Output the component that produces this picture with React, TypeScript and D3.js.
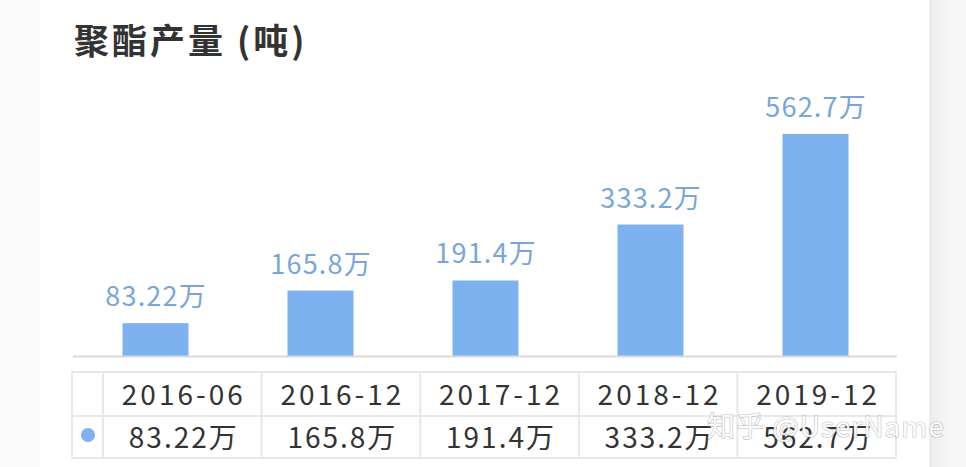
import React from "react";
import * as d3 from "d3";

const categories = ["2016-06", "2016-12", "2017-12", "2018-12", "2019-12"];
const values = [83.22, 165.8, 191.4, 333.2, 562.7];
const valueLabels = ["83.22万", "165.8万", "191.4万", "333.2万", "562.7万"];
const title = "聚酯产量 (吨)";
const watermark = "知乎 @UserName";

const W = 966;
const H = 467;
const FONT = "'Noto Sans CJK SC', 'Noto Sans', sans-serif";

export default function App() {
  const x = d3
    .scaleBand<string>()
    .domain(categories)
    .range([73, 898])
    .paddingInner(0.6)
    .paddingOuter(0.3);
  const y = d3.scaleLinear().domain([0, d3.max(values) as number]).range([356, 134]);

  const tableLeft = 72;
  const firstColRight = 103;
  const tableRight = 896;
  const tCol = d3.scaleBand<string>().domain(categories).range([firstColRight, tableRight]);
  const rowTop = 372;
  const rowMid = 416;
  const rowBot = 458;

  const barColor = "#7db1ef";
  const labelColor = "#78a5da";
  const gridColor = "#e8e8e8";

  return (
    <svg
      width={W}
      height={H}
      style={{ position: "fixed", left: 0, top: 0, display: "block" }}
      fontFamily={FONT}
    >
      <defs>
        <linearGradient id="rightbg" x1="0" x2="1" y1="0" y2="0">
          <stop offset="0" stopColor="#ececec" />
          <stop offset="0.5" stopColor="#f5f5f5" />
          <stop offset="1" stopColor="#f8f8f8" />
        </linearGradient>
      </defs>
      <rect x={0} y={0} width={W} height={H} fill="#ffffff" />
      <rect x={0} y={0} width={40} height={H} fill="#fafafa" />
      <rect x={929} y={0} width={W - 929} height={H} fill="url(#rightbg)" />

      <text x={74} y={54} fontSize={35} fontWeight={700} fill="#333333" letterSpacing={3}>
        {title}
      </text>

      {categories.map((c, i) => (
        <g key={c}>
          <rect
            x={x(c)}
            y={y(values[i])}
            width={x.bandwidth()}
            height={y(0) - y(values[i])}
            fill={barColor}
          />
          <text
            x={(x(c) as number) + x.bandwidth() / 2 + 0.6}
            y={y(values[i]) - 17}
            textAnchor="middle"
            fontSize={27}
            letterSpacing={1.2}
            fill={labelColor}
          >
            {valueLabels[i]}
          </text>
        </g>
      ))}
      <line x1={73} x2={897} y1={356.5} y2={356.5} stroke="#d9d9d9" strokeWidth={2} />

      {/* data table */}
      <g stroke={gridColor} strokeWidth={2} fill="none">
        <rect x={tableLeft} y={rowTop} width={tableRight - tableLeft} height={rowBot - rowTop} />
        <line x1={tableLeft} x2={tableRight} y1={rowMid} y2={rowMid} />
        <line x1={firstColRight} x2={firstColRight} y1={rowTop} y2={rowBot} />
        {categories.slice(1).map((c) => (
          <line key={c} x1={tCol(c)} x2={tCol(c)} y1={rowTop} y2={rowBot} />
        ))}
      </g>
      <circle cx={88} cy={435} r={7} fill={barColor} />
      {categories.map((c, i) => {
        const cx = (tCol(c) as number) + tCol.bandwidth() / 2 + 1.5;
        return (
          <g key={c}>
            <text x={cx} y={405} textAnchor="middle" fontSize={28} letterSpacing={3} fill="#333333">
              {c}
            </text>
            <text x={cx} y={448} textAnchor="middle" fontSize={28} letterSpacing={2} fill="#333333">
              {valueLabels[i]}
            </text>
          </g>
        );
      })}

      <text
        x={707}
        y={437}
        fontSize={28}
        letterSpacing={1}
        fill="#ffffff"
        fillOpacity={0.92}
        stroke="#8a8a8a"
        strokeOpacity={0.55}
        strokeWidth={1.2}
        style={{ paintOrder: "stroke" }}
      >
        {watermark}
      </text>
    </svg>
  );
}
